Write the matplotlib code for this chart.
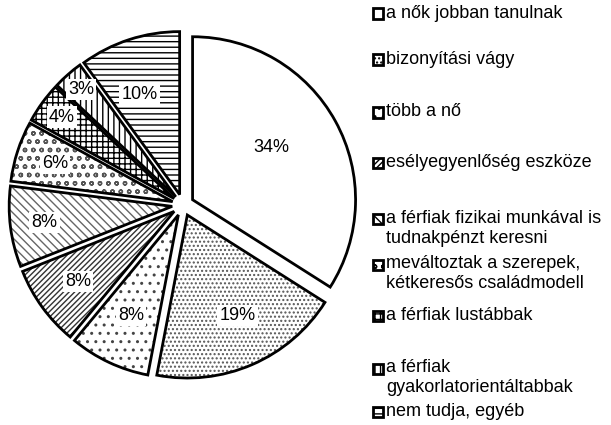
import numpy as np
import matplotlib
matplotlib.use("Agg")
import matplotlib.pyplot as plt
from matplotlib.patches import Rectangle

plt.rcParams['font.family'] = ['Liberation Sans', 'DejaVu Sans']
plt.rcParams['hatch.linewidth'] = 1.0

labels = ['a nők jobban tanulnak', 'bizonyítási vágy', 'több a nő',
          'esélyegyenlőség eszköze',
          'a férfiak fizikai munkával is\ntudnakpénzt keresni',
          'meváltoztak a szerepek,\nkétkeresős családmodell',
          'a férfiak lustábbak',
          'a férfiak\ngyakorlatorientáltabbak',
          'nem tudja, egyéb']
values = [34, 19, 8, 8, 8, 6, 4, 3, 10]

# styling per slice
hatches = ['', '....', '..', '//////', '\\\\\\\\', 'oo', '+++', '|||', '---']
hatch_cols = ['black', '#555555', '#444444', '#333333', '#666666', '#555555', 'black', 'black', 'black']
label_r = [0.58, 0.69, 0.68, 0.73, 0.79, 0.76, 0.85, 0.88, 0.66]
label_da = [5, 3, 0, 0, 0, 0, 0, 0, 4]   # small angle nudges, degrees
legend_y = [13.5, 59.5, 112.5, 163, 219, 264.5, 315.5, 368.5, 411.5]

W, H = 611, 425
fig = plt.figure(figsize=(W / 100, H / 100), dpi=100)
half = 1.11 * 163
ax = fig.add_axes([(183 - half) / W, (220 - half) / H, 2 * half / W, 2 * half / H])

explode = [0.067] * len(values)
# hatched fill, hatch colour comes from the edge colour
wedges, _ = ax.pie(values, startangle=90, counterclock=False, explode=explode,
                   colors=['white'] * len(values), radius=1.0,
                   wedgeprops=dict(linewidth=0))
for w, h, c in zip(wedges, hatches, hatch_cols):
    w.set_hatch(h)
    w.set_edgecolor(c)
# black outlines on top
outl, _ = ax.pie(values, startangle=90, counterclock=False, explode=explode,
                 radius=1.0, wedgeprops=dict(fill=False, edgecolor='black', linewidth=2))

for w, r, da, v in zip(outl, label_r, label_da, values):
    ang = np.deg2rad((w.theta1 + w.theta2) / 2 + da)
    cx, cy = w.center
    ax.text(cx + r * np.cos(ang), cy + r * np.sin(ang), f'{v}%', ha='center', va='center',
            fontsize=13, bbox=dict(facecolor='white', edgecolor='none', pad=1.5))

ax.set_xlim(-1.11, 1.11)
ax.set_ylim(-1.11, 1.11)
ax.set_aspect('equal')
ax.axis('off')

# legend drawn at the right
for lab, h, c, y in zip(labels, hatches, hatch_cols, legend_y):
    yc = H - y
    r = Rectangle((373 / W, (yc - 5) / H), 10 / W, 10 / H, transform=fig.transFigure,
                  facecolor='white', edgecolor='black', linewidth=2, hatch=h)
    fig.add_artist(r)
    fig.text(386 / W, (yc + 9) / H, lab, ha='left', va='top', fontsize=13,
             linespacing=1.2)

fig.savefig('out.png', dpi=100)
